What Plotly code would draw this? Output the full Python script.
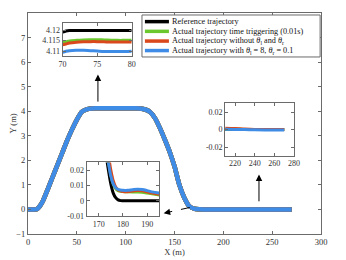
import plotly.graph_objects as go

# ---------------- data ----------------
series_names = [
    "Reference trajectory",
    "Actual trajectory time triggering (0.01s)",
    "Actual trajectory without <i>θ</i><sub>l</sub> and <i>θ</i><sub>r</sub>",
    "Actual trajectory with <i>θ</i><sub>l</sub> = 8, <i>θ</i><sub>r</sub> = 0.1",
]
series_colors = ["#000000", "#6BC82E", "#D9491C", "#3F8CE6"]

# main trajectory (all series overlap at this scale)
x_main = [0, 5, 9, 12, 15, 20, 25, 30, 35, 40, 45, 50, 55, 60, 65, 70, 80, 90, 100,
          110, 115, 120, 125, 130, 135, 140, 145, 150, 155, 160, 165, 170, 175, 180,
          200, 220, 240, 270]
y_main = [0, 0, 0.01, 0.13, 0.32, 0.8, 1.3, 1.8, 2.3, 2.8, 3.25, 3.65, 3.97, 4.08, 4.115,
          4.12, 4.12, 4.12, 4.12, 4.12, 4.11, 4.07, 3.97, 3.72, 3.32, 2.85, 2.35, 1.75,
          1.0, 0.48, 0.14, 0.03, 0.005, 0, 0, 0, 0, 0]

# inset 1 (top plateau, x 70-80)
x_in1 = [70, 70.5, 71, 72, 73, 74, 75, 76, 77, 78, 79, 80]
y_in1_ref = [4.1190, 4.1196, 4.1198, 4.1198, 4.1198, 4.1198, 4.1198, 4.1198, 4.1198, 4.1198, 4.1198, 4.1198]
y_in1_time = [4.1142, 4.1145, 4.1148, 4.1151, 4.1153, 4.1154, 4.1154, 4.1153, 4.1152, 4.1151, 4.1151, 4.1151]
y_in1_without = [4.1130, 4.1134, 4.1138, 4.1142, 4.1144, 4.1145, 4.1145, 4.1144, 4.1143, 4.1143, 4.1143, 4.1143]
y_in1_with = [4.1094, 4.1099, 4.1102, 4.1104, 4.1104, 4.1102, 4.1100, 4.1098, 4.1098, 4.1098, 4.1098, 4.1099]

# inset 2 (end of descent, x 165-195)
x_in2 = [172, 173, 174, 175, 176, 177, 178, 179, 180, 182, 184, 186, 188, 190, 192, 195]
y_in2_ref = [0.040, 0.030, 0.020, 0.011, 0.005, 0.0020, 0.0006, 0.0001, 0, 0, 0, 0, 0, 0, 0, 0]
y_in2_time = [0.045, 0.036, 0.026, 0.017, 0.011, 0.0080, 0.0066, 0.0061, 0.0060, 0.0058, 0.0057, 0.0057, 0.0055, 0.0050, 0.0045, 0.0038]
y_in2_without = [0.048, 0.040, 0.030, 0.020, 0.013, 0.0090, 0.0072, 0.0064, 0.0060, 0.0059, 0.0063, 0.0067, 0.0065, 0.0058, 0.0051, 0.0043]
y_in2_with = [0.046, 0.036, 0.025, 0.016, 0.0110, 0.0085, 0.0074, 0.0070, 0.0068, 0.0068, 0.0072, 0.0075, 0.0073, 0.0066, 0.0058, 0.0050]

# inset 3 (final straight, x 210-270)
x_in3 = [210, 220, 230, 240, 250, 260, 270]
y_in3_ref = [0, 0, 0, 0, 0, 0, 0]
y_in3_time = [0.0004, 0.0003, 0.0002, 0.0001, 0, 0, 0]
y_in3_without = [0.0016, 0.0012, 0.0006, 0.0002, 0.0001, 0, 0]
y_in3_with = [0.0004, 0.0002, 0.0001, -0.0003, -0.0004, -0.0004, -0.0004]

main_xticks = [0, 50, 100, 150, 200, 250, 300]
main_yticks = [-1, 0, 1, 2, 3, 4, 5, 6, 7, 8]

# ---------------- figure ----------------
FONT = "Liberation Serif"
AX = "#6b6b6b"
fig = go.Figure()

for name, col in zip(series_names, series_colors):
    fig.add_trace(go.Scatter(x=x_main, y=y_main, mode="lines", name=name,
                             line=dict(color=col, width=4.5, shape="spline", smoothing=0.6),
                             showlegend=False, xaxis="x", yaxis="y"))

for ys, col in zip([y_in1_ref, y_in1_time, y_in1_without, y_in1_with], series_colors):
    fig.add_trace(go.Scatter(x=x_in1, y=ys, mode="lines", line=dict(color=col, width=3, shape="spline"),
                             showlegend=False, xaxis="x2", yaxis="y2"))
for ys, col in zip([y_in2_ref, y_in2_time, y_in2_without, y_in2_with], series_colors):
    fig.add_trace(go.Scatter(x=x_in2, y=ys, mode="lines", line=dict(color=col, width=3, shape="spline"),
                             showlegend=False, xaxis="x3", yaxis="y3"))
for ys, col in zip([y_in3_ref, y_in3_time, y_in3_without, y_in3_with], series_colors):
    fig.add_trace(go.Scatter(x=x_in3, y=ys, mode="lines", line=dict(color=col, width=3, shape="spline"),
                             showlegend=False, xaxis="x4", yaxis="y4"))

tickfont = dict(family=FONT, size=8.5, color="#333")
insetfont = dict(family=FONT, size=8, color="#333")

def ax_style(**kw):
    d = dict(showline=True, linecolor=AX, linewidth=1, mirror="ticks", ticks="inside",
             ticklen=3, tickcolor=AX, showgrid=False, zeroline=False, tickfont=tickfont,
             automargin=False)
    d.update(kw)
    return d

fig.update_layout(
    width=346, height=260,
    margin=dict(l=20, r=33, t=5, b=34),
    paper_bgcolor="white", plot_bgcolor="white",
    font=dict(family=FONT, size=8, color="#333"),
    xaxis=ax_style(range=[0, 300], tickvals=main_xticks, domain=[0, 1],
                   title=dict(text="X (m)", font=dict(family=FONT, size=8.5, color="#333"), standoff=1)),
    yaxis=ax_style(range=[-1, 8], tickvals=main_yticks, domain=[0, 1],
                   title=dict(text="Y (m)", font=dict(family=FONT, size=8.5, color="#333"), standoff=3)),
    xaxis2=ax_style(range=[70, 80], tickvals=[70, 75, 80], domain=[0.118, 0.354], anchor="y2",
                    tickfont=insetfont),
    yaxis2=ax_style(range=[4.1076, 4.1232], tickvals=[4.11, 4.115, 4.12],
                    ticktext=["4.11", "4.115", "4.12"], domain=[0.805, 0.953], anchor="x2",
                    tickfont=insetfont),
    xaxis3=ax_style(range=[165, 195], tickvals=[170, 180, 190], domain=[0.200, 0.448], anchor="y3",
                    tickfont=insetfont),
    yaxis3=ax_style(range=[-0.01, 0.025], tickvals=[-0.01, 0, 0.01, 0.02],
                    ticktext=["-0.01", "0", "0.01", "0.02"], domain=[0.081, 0.324], anchor="x3",
                    tickfont=insetfont),
    xaxis4=ax_style(range=[210, 280], tickvals=[220, 240, 260, 280], domain=[0.673, 0.908], anchor="y4",
                    tickfont=insetfont),
    yaxis4=ax_style(range=[-0.03, 0.03], tickvals=[-0.02, 0, 0.02],
                    ticktext=["-0.02", "0", "0.02"], domain=[0.354, 0.591], anchor="x4",
                    tickfont=insetfont),
)

# arrows
fig.add_annotation(x=71.6, y=5.5, ax=71.6, ay=4.33, xref="x", yref="y", axref="x", ayref="y",
                   showarrow=True, arrowhead=2, arrowsize=1.3, arrowwidth=1, arrowcolor="black", text="")
fig.add_annotation(x=236.5, y=1.42, ax=236.5, ay=0.27, xref="x", yref="y", axref="x", ayref="y",
                   showarrow=True, arrowhead=2, arrowsize=1.3, arrowwidth=1, arrowcolor="black", text="")
fig.add_shape(type="line", x0=165.6, y0=0.08, x1=143, y1=-0.12, xref="x", yref="y",
              line=dict(color="black", width=1, dash="dash"))
fig.add_annotation(x=138.9, y=-0.15, ax=144, ay=-0.11, xref="x", yref="y", axref="x", ayref="y",
                   showarrow=True, arrowhead=2, arrowsize=1.3, arrowwidth=1, arrowcolor="black", text="")

# legend (manual, MATLAB style)
fig.add_shape(type="rect", x0=0.389, x1=0.997, y0=0.801, y1=0.991, xref="paper", yref="paper",
              line=dict(color=AX, width=1), fillcolor="white", layer="above")
rows = [0.961, 0.917, 0.873, 0.830]
for name, col, yy in zip(series_names, series_colors, rows):
    fig.add_shape(type="line", x0=0.399, x1=0.481, y0=yy, y1=yy, xref="paper", yref="paper",
                  line=dict(color=col, width=3.5), layer="above")
    fig.add_annotation(x=0.486, y=yy, xref="paper", yref="paper", text=name, showarrow=False,
                       xanchor="left", yanchor="middle", font=dict(family=FONT, size=8.2, color="#111"))

fig.write_html("out.html")
